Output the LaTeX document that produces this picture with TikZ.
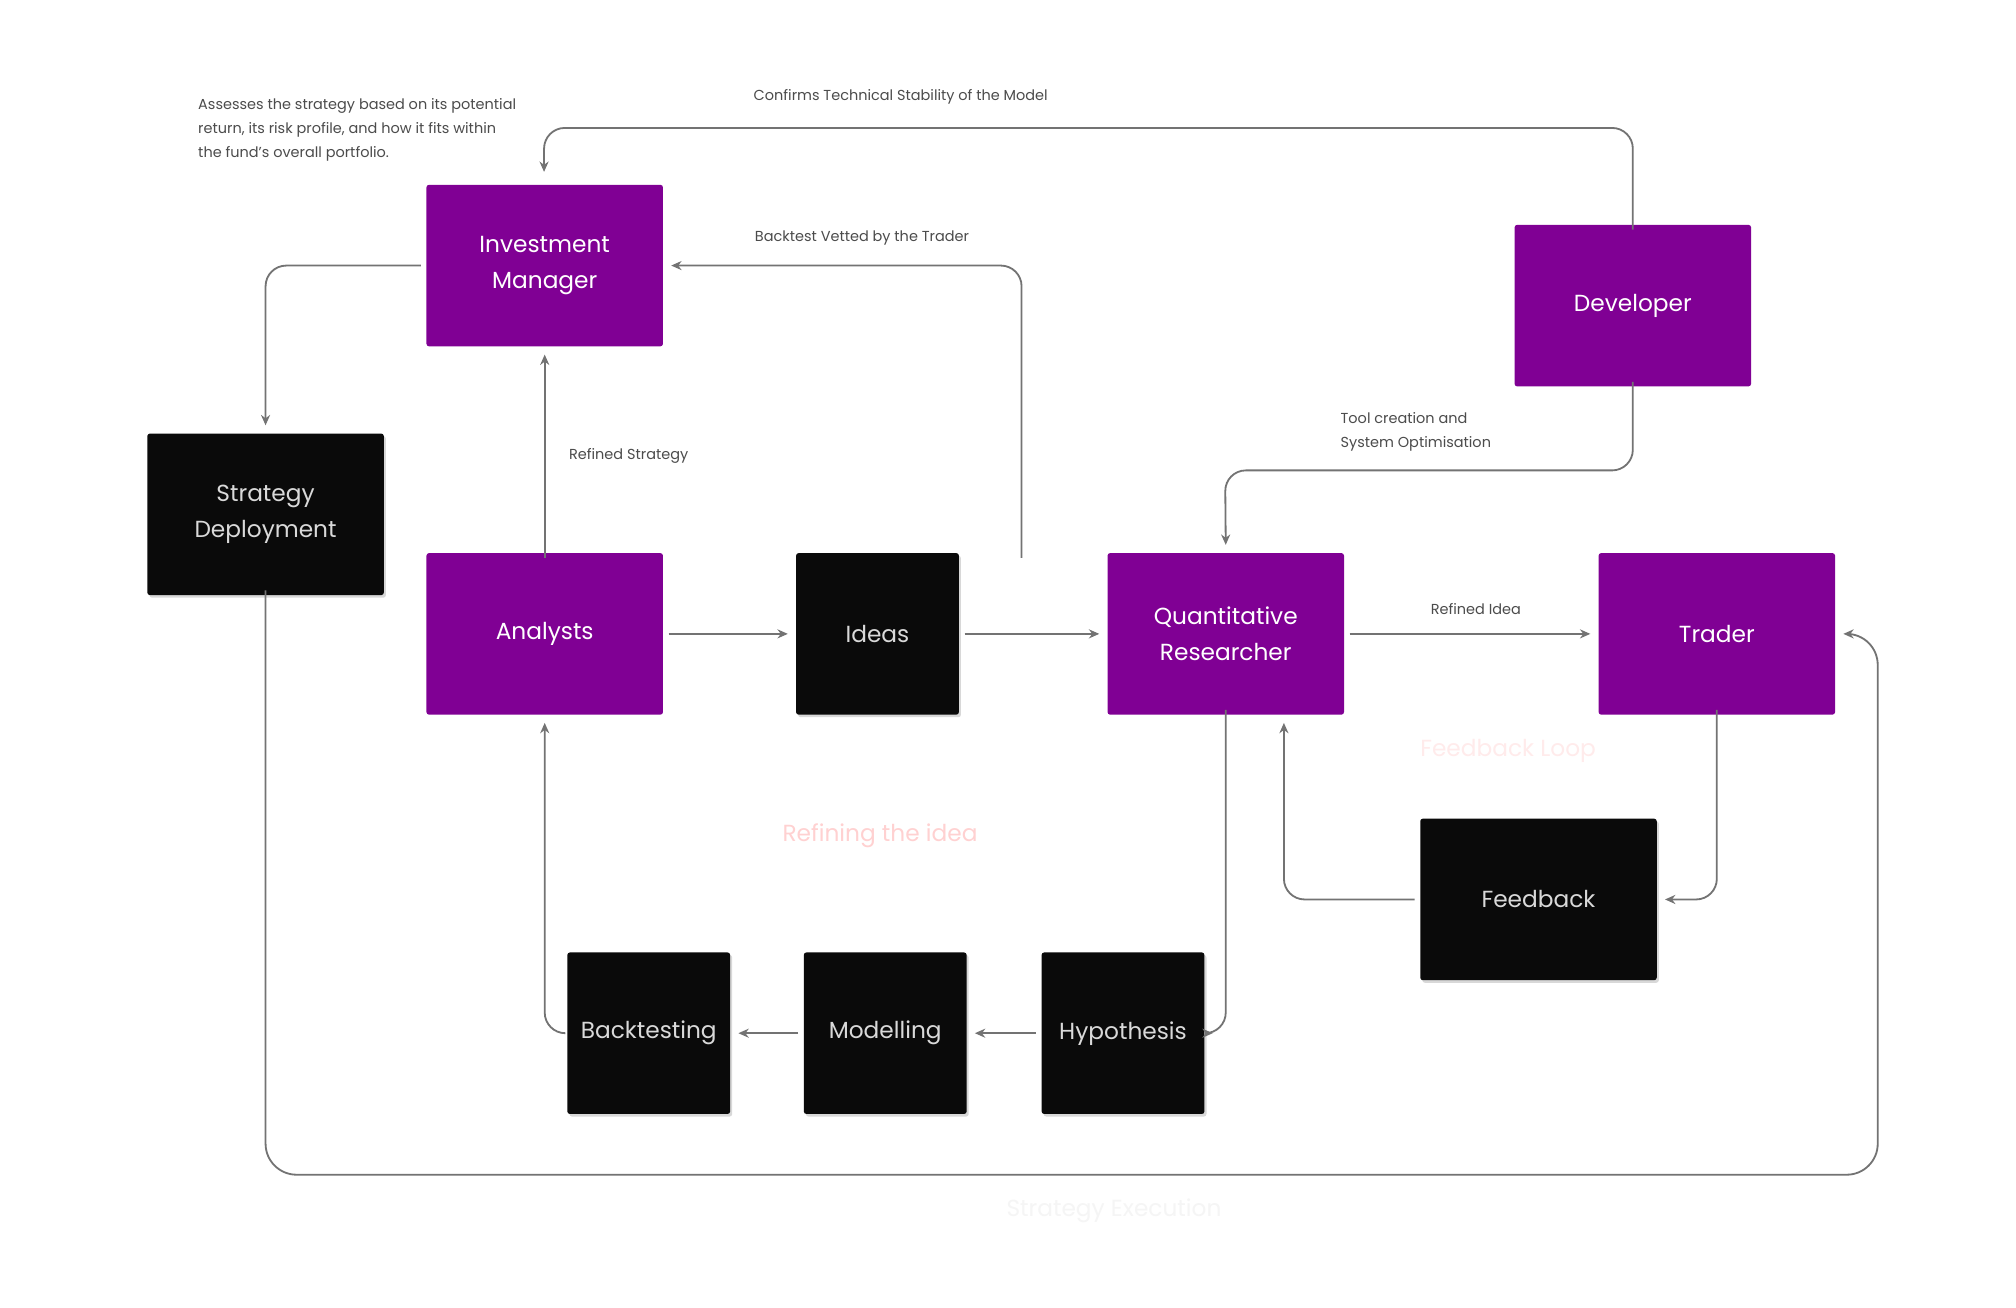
\documentclass[tikz,border=0pt]{standalone}
\usepackage{fontspec}
\setmainfont{Poppins}
\usetikzlibrary{arrows.meta,shadows}
\definecolor{pur}{HTML}{800094}
\definecolor{blk}{HTML}{0A0A0A}
\definecolor{ln}{HTML}{737373}
\begin{document}
\begin{tikzpicture}[x=0.5pt,y=-0.5pt,
  pbox/.style={fill=pur,text=white,minimum width=91.5pt,minimum height=62.5pt,align=center,font=\fontsize{9}{14}\selectfont,inner sep=0pt,rounded corners=1pt},
  bbox/.style={fill=blk,text=white!85!black,minimum width=91.5pt,minimum height=62.5pt,align=center,font=\fontsize{9}{14}\selectfont,inner sep=0pt,rounded corners=1pt,drop shadow={opacity=0.3,shadow xshift=0.8pt,shadow yshift=-1pt}},
  con/.style={draw=ln,line width=0.7pt,rounded corners=8pt,-{Stealth[length=4pt,width=3.5pt]}},
  lbl/.style={text=black!70,font=\fontsize{5.6}{9.3}\selectfont,align=left,inner sep=0pt},
  faint/.style={font=\fontsize{9}{11}\selectfont,inner sep=0pt}]
\useasboundingbox[fill=white] (0,0) rectangle (1560,1012);
\node[pbox] (im) at (421.5,205.5) {Investment\\Manager};
\node[pbox] (dev) at (1263.5,236.5) {Developer};
\node[bbox] (sd) at (205.5,398) {Strategy\\Deployment};
\node[pbox] (an) at (421.5,490.5) {Analysts};
\node[bbox,minimum width=63pt] (id) at (679,490.5) {Ideas};
\node[pbox] (qr) at (948.5,490.5) {Quantitative\\Researcher};
\node[pbox] (tr) at (1328.5,490.5) {Trader};
\node[bbox] (fb) at (1190.5,696) {Feedback};
\node[bbox,minimum width=63pt] (bt) at (502,799.5) {Backtesting};
\node[bbox,minimum width=63pt] (mo) at (685,799.5) {Modelling};
\node[bbox,minimum width=63pt] (hy) at (869,799.5) {Hypothesis};

\node[lbl,anchor=north west] (note) at (153,76) {Assesses the strategy based on its potential\\return, its risk profile, and how it fits within\\the fund's overall portfolio.};
\node[lbl] (l1) at (697,75) {Confirms Technical Stability of the Model};
\node[lbl] (l2) at (667,184) {Backtest Vetted by the Trader};
\node[lbl,anchor=west] (l3) at (440,353) {Refined Strategy};
\node[lbl,anchor=west] (l4) at (1037,334) {Tool creation and\\System Optimisation};
\node[lbl] (l5) at (1142,471) {Refined Idea};
\node[faint,text=red!8] (f1) at (1167,581) {Feedback Loop};
\node[faint,text=red!18] (f2) at (681,647) {Refining the idea};
\node[faint,text=black!4] (f3) at (862,937) {Strategy Execution};

\coordinate (imt) at (421,143);
\draw[con] ([yshift=-2pt]dev.north) |- (421,99) -- ([yshift=5pt]imt);
\draw[con] ([xshift=-79pt,yshift=-2pt]qr.north) |- ([xshift=3pt]im.east);
\draw[con] ([xshift=-2pt]im.west) -| ([yshift=3pt]sd.north);
\draw[con] ([yshift=-2pt]an.north) -- ([yshift=-3pt]im.south);
\draw[con] ([yshift=2pt]dev.south) |- (948,364) -- ([yshift=3pt]qr.north);
\draw[con] ([xshift=2pt]an.east) -- ([xshift=-3pt]id.east -| id.west);
\draw[con] ([xshift=2pt]id.east) -- ([xshift=-3pt]qr.west);
\draw[con] ([xshift=2pt]qr.east) -- ([xshift=-3pt]tr.west);
\draw[con] ([yshift=2pt]tr.south) |- ([xshift=3pt]fb.east);
\draw[con] ([xshift=-2pt]fb.west) -| ([xshift=22.5pt,yshift=-3pt]qr.south);
\draw[con] ([yshift=2pt]qr.south) |- ([xshift=3pt]hy.east);
\draw[con] ([xshift=-2pt]hy.west) -- ([xshift=3pt]mo.east);
\draw[con] ([xshift=-2pt]mo.west) -- ([xshift=3pt]bt.east);
\draw[con] ([xshift=-1pt]bt.west) -| ([yshift=-3pt]an.south);
\draw[con,rounded corners=12pt] ([yshift=2pt]sd.south) |- (1453,909) |- ([xshift=3pt]tr.east);
\end{tikzpicture}
\end{document}
